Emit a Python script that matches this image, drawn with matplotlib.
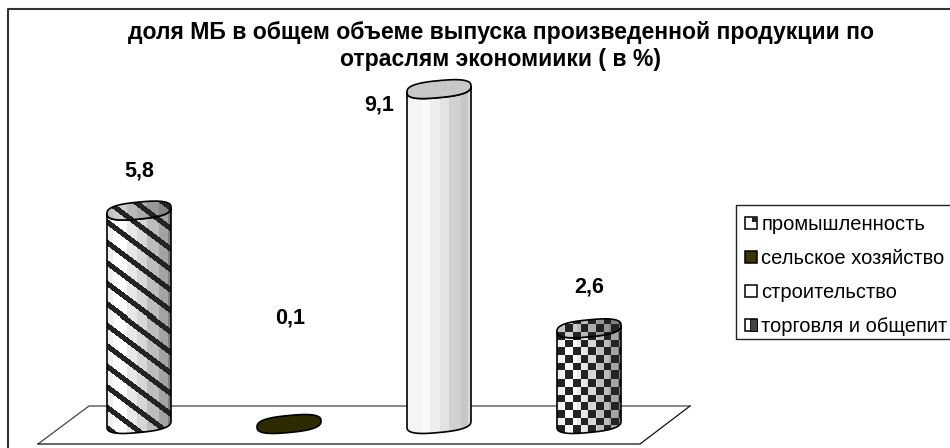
import numpy as np
import matplotlib
matplotlib.use('Agg')
import matplotlib.pyplot as plt
from matplotlib.patches import Polygon, Rectangle
from matplotlib.transforms import Affine2D
from matplotlib.lines import Line2D
from matplotlib.legend_handler import HandlerBase

plt.rcParams['font.family'] = ['Liberation Sans', 'DejaVu Sans']

# ---- data ----
categories = ['промышленность', 'сельское хозяйство', 'строительство', 'торговля и общепит']
values = [5.8, 0.1, 9.1, 2.6]
value_labels = ['5,8', '0,1', '9,1', '2,6']
title = 'доля МБ в общем объеме выпуска произведенной продукции по\nотраслям экономиики ( в %)'

# ---- styling ----
label_offsets = [(0, 40), (1, 102), (-60, -16), (0, 41)]
patterns = ['stripes', 'solid', 'plain', 'checks']
shades_a = [(0, .10, .94), (.10, .32, 1.0), (.32, .47, .91), (.47, .63, .84), (.63, .81, .74), (.81, .95, .64), (.95, 1.01, .50)]
shades_b = [(0, .23, .96), (.23, .36, .98), (.36, .52, .93), (.52, .65, .89), (.65, .85, .82), (.85, .95, .78), (.95, 1.01, .86)]
DARK = 0.14
BAR_PX = 64
STEP_PX = 150
V_PX = 36.8

W, H = 950, 448
fig = plt.figure(figsize=(W / 100, H / 100), dpi=100, facecolor='white')
ax = fig.add_axes([0, 0, 1, 1])
ax.axis('off')
xlim = (-139 / STEP_PX, (W - 139) / STEP_PX)
ylim = ((424 - H) / V_PX, 424 / V_PX)

# pixel transform (y down) for the chart furniture
px = Affine2D().scale(1, -1).translate(0, H)

# outer frame
ax.add_line(Line2D([8, 8, 960], [460, 9, 9], transform=px, color='#333333', lw=1.5, clip_on=False))
# floor
ax.add_line(Line2D([38, 89, 690], [444, 406, 406], transform=px, color='#444444', lw=0.9))
ax.add_line(Line2D([38, 640, 690], [444, 444, 406], transform=px, color='#111111', lw=0.9))
# legend frame
ax.add_line(Line2D([960, 736, 736, 960], [205, 205, 339, 339], transform=px, color='#222222', lw=1.0))


def ring(cx, base, t):
    """Slanted rounded outline around the column axis, in data units."""
    c, s = np.cos(t), np.sin(t)
    c2 = np.sign(c) * np.abs(c) ** 0.75
    s2 = np.sign(s) * np.abs(s) ** 0.75
    dx = BAR_PX / 2 * c2
    dy = -3 * c2 + 8.5 * s2  # px downward
    return cx + dx / STEP_PX, base - dy / V_PX


def texture(kind, w, h, shades, dim=1.0):
    u = (np.arange(w) + .5) / w
    col = np.ones(w)
    for a, b, s in shades:
        col[(u >= a) & (u < b)] = s
    img = np.tile(col * dim, (h, 1))
    yy, xx = np.mgrid[0:h, 0:w]
    if kind == 'stripes':
        img[((yy - 0.75 * xx) % 20.5) < 6.5] = DARK
    elif kind == 'checks':
        img[((xx // 7.7).astype(int) + (yy // 7.7).astype(int)) % 2 == 0] = DARK
    return img


for i, (v, kind) in enumerate(zip(values, patterns)):
    t_front = np.linspace(np.pi, 0, 40)   # left -> front -> right (lower half)
    if kind == 'solid':
        t = np.linspace(0, 2 * np.pi, 80)
        x, y = ring(i, 0, t)
        ax.add_patch(Polygon(np.c_[x, y], closed=True, facecolor='#2e2a00', edgecolor='black', lw=1.2, zorder=3))
        continue
    xb, yb = ring(i, 0, t_front)
    xf, yf = ring(i, v, t_front[::-1])
    body = Polygon(np.r_[np.c_[xb, yb], np.c_[xf, yf]], closed=True, facecolor='none', edgecolor='black', lw=1.2, zorder=4)
    xc, yc = ring(i, v, np.linspace(0, 2 * np.pi, 80))
    cap = Polygon(np.c_[xc, yc], closed=True, facecolor='none', edgecolor='black', lw=1.2, zorder=6)
    hw = BAR_PX / 2 / STEP_PX
    top = v + 12 / V_PX
    bot = -12 / V_PX
    h_px = int((top - bot) * V_PX)
    shades = shades_b if kind == 'plain' else shades_a
    im = ax.imshow(texture(kind, BAR_PX, h_px, shades), cmap='gray', vmin=0, vmax=1, aspect='auto',
                   interpolation='nearest', extent=(i - hw, i + hw, bot, top), zorder=3)
    ax.add_patch(body)
    im.set_clip_path(body)
    if kind == 'plain':
        cap.set_facecolor('#c8c8c8')
        ax.add_patch(cap)
    else:
        im2 = ax.imshow(texture(kind, BAR_PX, h_px, shades, dim=.8), cmap='gray', vmin=0, vmax=1, aspect='auto',
                        interpolation='nearest', extent=(i - hw, i + hw, bot, top), zorder=5)
        ax.add_patch(cap)
        im2.set_clip_path(cap)

ax.set_xlim(*xlim)
ax.set_ylim(*ylim)

for i, (v, lab, off) in enumerate(zip(values, value_labels, label_offsets)):
    ax.annotate(lab, (i, v), xytext=(off[0], off[1]), textcoords='offset pixels', ha='center', va='center',
                fontsize=15.5, fontweight='bold', color='black', zorder=8)

ax.text(501, 46, title, transform=px, ha='center', va='center', fontsize=16.6, fontweight='bold',
        linespacing=1.24, color='black')


class Swatch(HandlerBase):
    def create_artists(self, legend, orig, xd, yd, width, height, fontsize, trans):
        s = 8.6
        x0 = -xd
        y0 = -yd + (height - s) / 2
        arts = [Rectangle((x0, y0), s, s, facecolor=orig.get_facecolor(), edgecolor='black', lw=1.1, transform=trans)]
        if orig.get_label() == 'corner':
            arts.append(Rectangle((x0 + s * .55, y0 + s * .55), s * .45, s * .45, facecolor='#222222', edgecolor='none', transform=trans))
        if orig.get_label() == 'half':
            arts.append(Rectangle((x0 + s * .4, y0), s * .6, s, facecolor='#444444', edgecolor='black', lw=.6, transform=trans))
        return arts


handles = [Rectangle((0, 0), 1, 1, facecolor='white', label='corner'),
           Rectangle((0, 0), 1, 1, facecolor='#3a3600', label='plain'),
           Rectangle((0, 0), 1, 1, facecolor='white', label='plain'),
           Rectangle((0, 0), 1, 1, facecolor='white', label='half')]
leg = ax.legend(handles, categories, handler_map={Rectangle: Swatch()}, loc='upper left',
                bbox_to_anchor=(735 / W, 1 - 205 / H), bbox_transform=fig.transFigure, borderaxespad=0,
                fontsize=14.5, labelspacing=0.75, handlelength=0.6, handleheight=0.7, handletextpad=0.2,
                borderpad=0.5, frameon=False)
leg.set_zorder(9)

fig.savefig('out.png', dpi=100, facecolor='white')
